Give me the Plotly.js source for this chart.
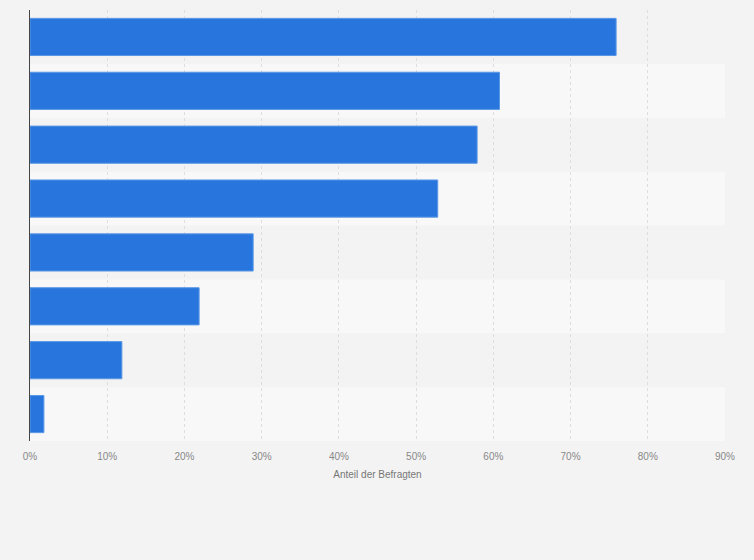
<!DOCTYPE html>
<html>
<head>
<meta charset="utf-8">
<script src="https://cdn.plot.ly/plotly-3.0.1.min.js"></script>
<style>
  html, body { margin: 0; padding: 0; background: #f3f3f3; }
  #chart { width: 754px; height: 560px; }
</style>
</head>
<body>
<div id="chart"></div>
<script>
// categories are not labelled in the source picture
const categories = ["A", "B", "C", "D", "E", "F", "G", "H"];
const shares = [75.9, 60.8, 57.9, 52.8, 28.9, 21.9, 11.9, 1.8];
const tickValues = [0, 10, 20, 30, 40, 50, 60, 70, 80, 90];
const tickLabels = ["0%", "10%", "20%", "30%", "40%", "50%", "60%", "70%", "80%", "90%"];

const trace = {
  type: "bar",
  orientation: "h",
  x: shares,
  y: categories,
  width: 0.69,
  marker: { color: "#2876dd", line: { color: "#5a98e6", width: 1 } },
  hoverinfo: "x"
};

// alternating row bands, every second row lighter
let bands = [];
for (let i = 1; i < categories.length; i += 2) {
  bands.push({
    type: "rect", xref: "paper", yref: "y",
    x0: 0, x1: 1, y0: i - 0.5, y1: i + 0.5,
    fillcolor: "#f8f8f8", line: { width: 0 }, layer: "below"
  });
}

const layout = {
  width: 754,
  height: 560,
  margin: { l: 30, r: 29, t: 10, b: 119 },
  paper_bgcolor: "#f3f3f3",
  plot_bgcolor: "#f3f3f3",
  showlegend: false,
  shapes: bands,
  font: { family: "Liberation Sans, Arial, sans-serif", color: "#777" },
  xaxis: {
    range: [0, 90],
    tickvals: tickValues,
    ticktext: tickLabels,
    tickfont: { size: 10, color: "#888" },
    ticks: "outside",
    ticklen: 6,
    tickcolor: "rgba(0,0,0,0)",
    showgrid: true,
    gridcolor: "#dedede",
    griddash: "dot",
    gridwidth: 1,
    zeroline: false,
    showline: false,
    fixedrange: true,
    title: { text: "Anteil der Befragten", font: { size: 10, color: "#777" }, standoff: 9 }
  },
  yaxis: {
    autorange: "reversed",
    showticklabels: false,
    ticks: "",
    showgrid: false,
    zeroline: false,
    showline: true,
    linecolor: "#444",
    linewidth: 1.5,
    fixedrange: true
  }
};

Plotly.newPlot("chart", [trace], layout, { displayModeBar: false, staticPlot: true });
</script>
</body>
</html>
